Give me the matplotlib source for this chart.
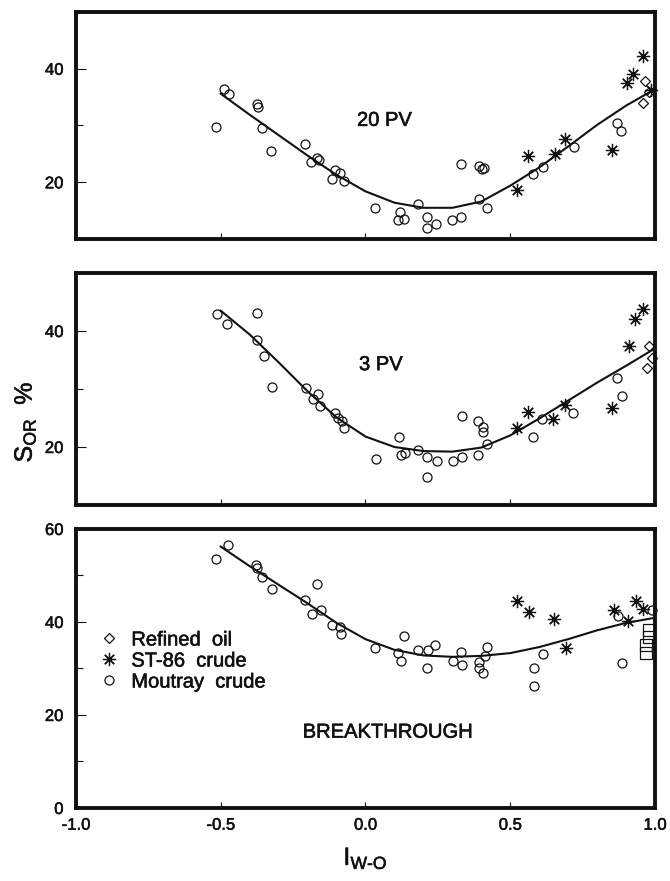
import matplotlib
matplotlib.use("Agg")
import matplotlib.pyplot as plt
from matplotlib.lines import Line2D
from matplotlib.text import Text
from matplotlib.ticker import FixedLocator
import matplotlib.patheffects as pe

plt.rcParams['font.family'] = ['Liberation Sans', 'DejaVu Sans']
plt.rcParams['mathtext.fontset'] = 'custom'
plt.rcParams['mathtext.rm'] = 'Liberation Sans'
plt.rcParams['mathtext.it'] = 'Liberation Sans'

# ---- Residual oil saturation vs. Amott wettability index ----
fit_x = [-0.5, -0.4, -0.3, -0.2, -0.1, 0.0, 0.1, 0.2, 0.3, 0.4, 0.5, 0.6, 0.7, 0.8, 0.9, 1.0]

# 20 PV injected
moutray20_x = [-0.515, -0.487, -0.472, -0.376, -0.372, -0.356, -0.327, -0.210, -0.188, -0.167,
               -0.161, -0.117, -0.107, -0.087, -0.075, 0.033, 0.112, 0.120, 0.132, 0.182,
               0.211, 0.211, 0.243, 0.299, 0.330, 0.331, 0.391, 0.392, 0.404, 0.411,
               0.420, 0.580, 0.612, 0.719, 0.870, 0.882]
moutray20_y = [29.7, 36.4, 35.6, 33.7, 33.2, 29.6, 25.5, 26.7, 23.5, 24.3,
               24.0, 20.6, 22.2, 21.6, 20.3, 15.5, 13.3, 14.8, 13.5, 16.1,
               13.9, 12.0, 12.7, 13.3, 23.2, 13.9, 17.0, 22.8, 22.3, 22.5,
               15.4, 21.4, 22.6, 26.2, 30.5, 29.0]
st86_20_x = [0.522, 0.562, 0.653, 0.690, 0.852, 0.904, 0.925, 0.957, 0.985]
st86_20_y = [18.7, 24.7, 25.0, 27.6, 25.6, 37.5, 39.0, 42.3, 36.3]
refined20_x = [0.957, 0.966, 0.980]
refined20_y = [33.9, 37.9, 35.9]
fit20_y = [35.6, 31.9, 28.3, 24.7, 21.3, 18.4, 16.4, 15.5, 15.5, 16.6, 19.4, 22.6, 26.3, 30.1, 33.5, 36.4]

# 3 PV injected
moutray3_x = [-0.512, -0.479, -0.376, -0.373, -0.351, -0.322, -0.207, -0.183, -0.164, -0.157,
              -0.107, -0.095, -0.080, -0.075, 0.036, 0.115, 0.123, 0.135, 0.183, 0.213,
              0.213, 0.246, 0.302, 0.332, 0.332, 0.390, 0.390, 0.407, 0.407, 0.420,
              0.580, 0.608, 0.718, 0.868, 0.885]
moutray3_y = [42.9, 41.2, 43.1, 38.4, 35.7, 30.3, 30.2, 28.2, 29.2, 27.1,
              25.8, 25.0, 24.4, 23.2, 17.9, 21.7, 18.7, 19.0, 19.4, 18.2,
              14.9, 17.5, 17.6, 18.3, 25.4, 24.5, 18.6, 23.5, 22.6, 20.6,
              21.7, 24.9, 25.8, 31.9, 28.8]
st86_3_x = [0.522, 0.562, 0.649, 0.689, 0.850, 0.911, 0.931, 0.960]
st86_3_y = [23.2, 26.1, 24.9, 27.2, 26.7, 37.4, 42.1, 43.8]
refined3_x = [0.971, 0.980, 0.988]
refined3_y = [33.7, 37.4, 35.4]
fit3_y = [43.5, 39.4, 34.6, 29.6, 25.1, 21.8, 20.0, 19.3, 19.2, 19.9, 22.0, 24.9, 28.0, 31.1, 34.0, 37.0]

# Breakthrough
moutray_bt_x = [-0.515, -0.475, -0.379, -0.374, -0.357, -0.324, -0.209, -0.167, -0.186, -0.154,
                -0.115, -0.087, -0.083, 0.033, 0.112, 0.121, 0.132, 0.183, 0.216, 0.213,
                0.240, 0.302, 0.331, 0.334, 0.391, 0.391, 0.405, 0.412, 0.420, 0.583,
                0.583, 0.612, 0.871, 0.886, 0.990]
moutray_bt_y = [53.5, 56.6, 52.2, 51.6, 49.7, 47.1, 44.7, 48.1, 41.7, 42.6,
                39.3, 39.0, 37.5, 34.4, 33.4, 31.6, 36.9, 33.9, 34.0, 30.0,
                35.1, 31.6, 33.6, 30.7, 31.4, 30.0, 29.1, 32.7, 34.6, 30.2,
                26.3, 33.2, 41.2, 31.1, 42.6]
st86_bt_x = [0.524, 0.565, 0.652, 0.694, 0.857, 0.908, 0.935, 0.960]
st86_bt_y = [44.4, 42.2, 40.6, 34.4, 42.6, 40.1, 44.6, 42.7]
square_bt_x = [0.979, 0.979, 0.969, 0.969]
square_bt_y = [38.3, 36.8, 35.1, 33.3]
fit_bt_y = [56.2, 52.0, 48.0, 44.0, 39.8, 36.3, 34.0, 32.8, 32.5, 32.7, 33.3, 34.6, 36.3, 38.2, 39.8, 40.9]

x_ticks = [-1.0, -0.5, 0.0, 0.5, 1.0]
legend_labels = ["Refined  oil", "ST-86  crude", "Moutray  crude"]

INK = "#111111"
STAR = (8, 2, 0)
circle_kw = dict(marker='o', ms=6.5, mfc='none', mec=INK, mew=0.9, ls='none', clip_on=False)
star_kw = dict(marker=STAR, ms=9.5, mec=INK, mew=0.9, ls='none', clip_on=False)
diamond_kw = dict(marker='D', ms=5.5, mfc='none', mec=INK, mew=0.9, ls='none', clip_on=False)
square_kw = dict(marker='s', ms=8, mfc='none', mec=INK, mew=0.9, ls='none', clip_on=False)

fig = plt.figure(figsize=(6.7, 8.81), dpi=100)
left, width = 0.1134, 0.8642
ax_top = fig.add_axes([left, 0.7287, width, 0.2577])
ax_mid = fig.add_axes([left, 0.4268, width, 0.2633])
ax_bot = fig.add_axes([left, 0.0829, width, 0.3167])


def style_axis(ax, ylim, major, minor, show_x):
    ax.set_xlim(-1.0, 1.0)
    ax.set_ylim(*ylim)
    ax.yaxis.set_major_locator(FixedLocator(major))
    ax.yaxis.set_minor_locator(FixedLocator(minor))
    ax.xaxis.set_major_locator(FixedLocator(x_ticks))
    for sp in ax.spines.values():
        sp.set_linewidth(2.8)
        sp.set_color(INK)
    ax.tick_params(axis='y', which='major', direction='in', length=7, width=0.8,
                   labelsize=12, pad=9, colors=INK)
    ax.tick_params(axis='y', which='minor', direction='in', length=5, width=0.8, colors=INK)
    ax.tick_params(axis='x', which='major', direction='in', length=4, width=0.8,
                   labelsize=12, pad=7, colors=INK, labelbottom=show_x)
    if show_x:
        ax.set_xticklabels([f"{v:.1f}" for v in x_ticks])


# 20 PV
ax_top.plot(fit_x, fit20_y, color=INK, lw=1.5)
ax_top.plot(moutray20_x, moutray20_y, **circle_kw)
ax_top.plot(st86_20_x, st86_20_y, **star_kw)
ax_top.plot(refined20_x, refined20_y, **diamond_kw)
ax_top.text(0.065, 30.9, "20 PV", fontsize=14.5, ha='center', va='center', color=INK)
style_axis(ax_top, (10, 50), [20, 40], [30], False)

# 3 PV
ax_mid.plot(fit_x, fit3_y, color=INK, lw=1.5)
ax_mid.plot(moutray3_x, moutray3_y, **circle_kw)
ax_mid.plot(st86_3_x, st86_3_y, **star_kw)
ax_mid.plot(refined3_x, refined3_y, **diamond_kw)
ax_mid.text(0.053, 34.2, "3 PV", fontsize=14.5, ha='center', va='center', color=INK)
style_axis(ax_mid, (10, 50), [20, 40], [30], False)

# Breakthrough
ax_bot.plot(fit_x, fit_bt_y, color=INK, lw=1.5)
ax_bot.plot(moutray_bt_x, moutray_bt_y, **circle_kw)
ax_bot.plot(st86_bt_x, st86_bt_y, **star_kw)
ax_bot.plot(square_bt_x, square_bt_y, **square_kw)
ax_bot.text(0.076, 16.3, "BREAKTHROUGH", fontsize=14.5, ha='center', va='center', color=INK)
style_axis(ax_bot, (0, 60), [0, 20, 40, 60], [10, 30, 50], True)

handles = [
    Line2D([], [], marker='D', ms=5.5, mfc='none', mec=INK, mew=0.9, ls='none'),
    Line2D([], [], marker=STAR, ms=9.5, mec=INK, mew=0.9, ls='none'),
    Line2D([], [], marker='o', ms=6.5, mfc='none', mec=INK, mew=0.9, ls='none'),
]
ax_bot.legend(handles, legend_labels, loc='upper left', bbox_to_anchor=(0.026, 0.665),
              frameon=False, fontsize=14.5, handlelength=1.0, handletextpad=0.6,
              labelspacing=0.1, borderaxespad=0.0, labelcolor=INK)

fig.text(0.037, 0.521, r"$\mathregular{S_{OR}}$  %", rotation=90, fontsize=18,
         ha='center', va='center', color=INK)
fig.text(0.5455, 0.026, r"$\mathregular{I_{W\text{-}O}}$", fontsize=18,
         ha='center', va='center', color=INK)

# slightly heavier lettering throughout
for t in fig.findobj(Text):
    t.set_path_effects([pe.withStroke(linewidth=0.4, foreground=INK)])

fig.savefig("out.png", dpi=100)
